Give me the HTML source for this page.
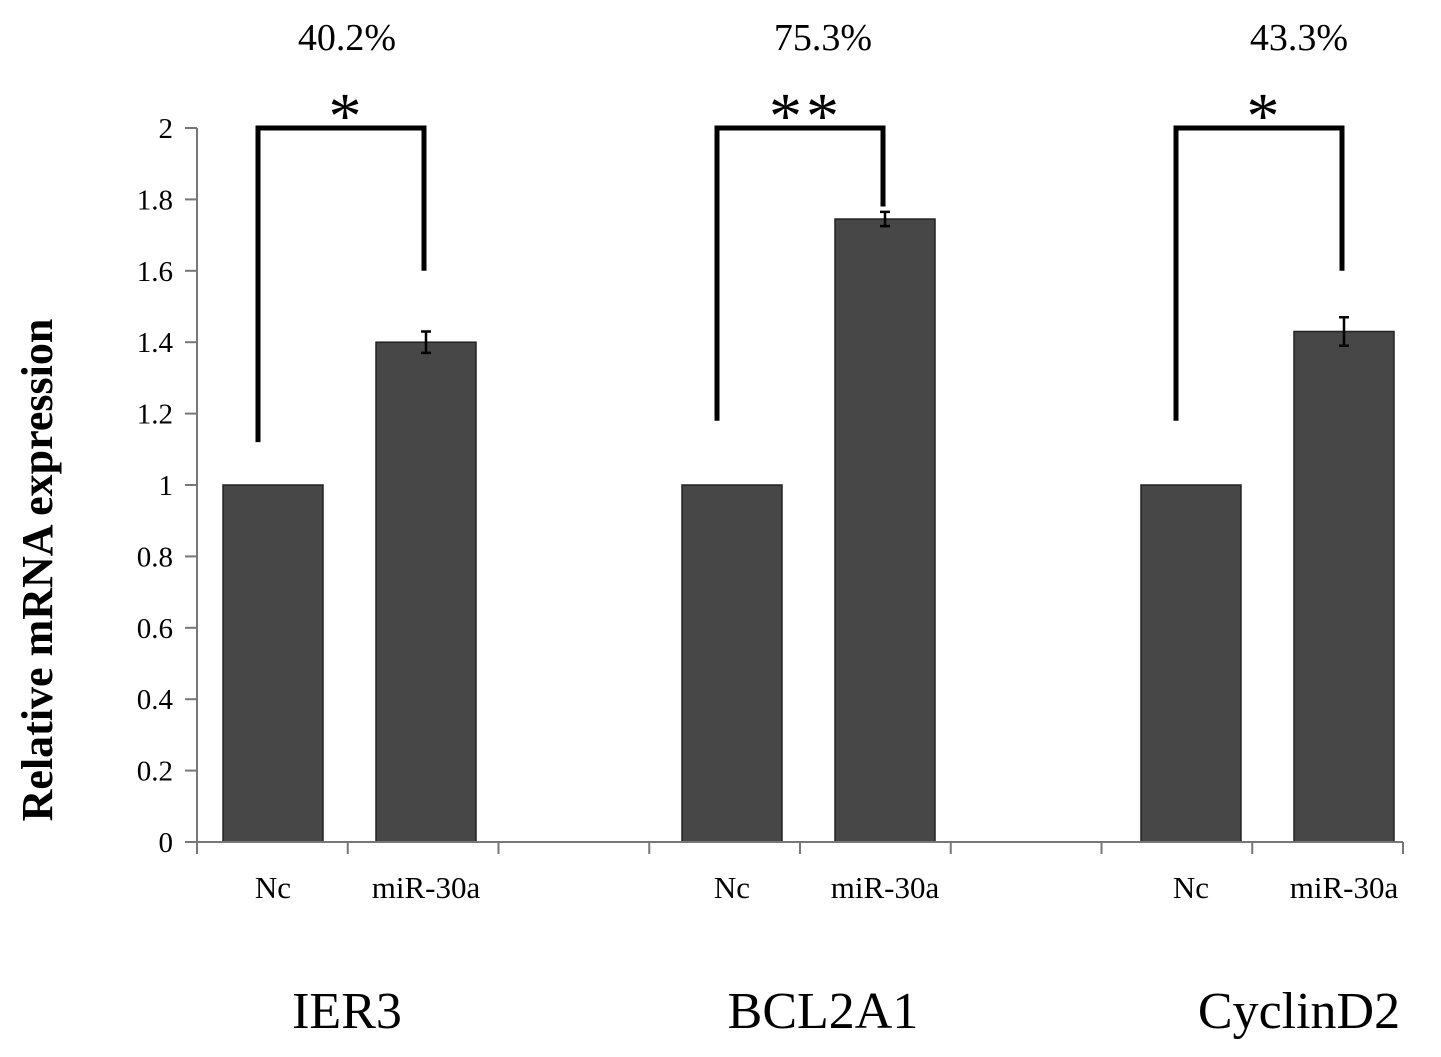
<!DOCTYPE html>
<html><head><meta charset="utf-8"><style>
html,body{margin:0;padding:0;background:#fff;}
svg{display:block;font-family:"Liberation Serif",serif;}
</style></head><body>
<svg id="c" width="1441" height="1057"></svg>
<script>
const categories=["Nc","miR-30a","","Nc","miR-30a","","Nc","miR-30a"];
const values=[1,1.40,null,1,1.745,null,1,1.43];
const errors=[0,0.03,null,0,0.02,null,0,0.04];
const yTicks=[0,0.2,0.4,0.6,0.8,1,1.2,1.4,1.6,1.8,2];
const genes=["IER3","BCL2A1","CyclinD2"];
const percents=["40.2%","75.3%","43.3%"];
const stars=["*","**","*"];
const bracketLeft=[1.12,1.18,1.18];
const bracketRight=[1.6,1.78,1.6];
const bracketTop=2;

const svg=document.getElementById('c');
const NS='http://www.w3.org/2000/svg';
const x0=197,x1=1403,y0=842,y1=128,ymax=2;
const slot=153;
const tickSlot=(x1-x0)/categories.length;
const xc=i=>x0-0.5+slot*(i+0.5);
const y=v=>y0-(v/ymax)*(y0-y1);
function el(t,a,txt){const e=document.createElementNS(NS,t);for(const k in a)e.setAttribute(k,a[k]);if(txt!=null)e.textContent=txt;svg.appendChild(e);return e;}

let e=el('line',{x1:x0,y1:y(0),x2:x0,y2:y(2),stroke:'#777','stroke-width':2});

yTicks.forEach(v=>{
  let t=el('line',{x1:x0-12,y1:y(v),x2:x0,y2:y(v),stroke:'#777','stroke-width':2});
  
  let l=el('text',{x:x0-24,y:y(v)+10,'text-anchor':'end','font-size':29},String(v));
  
});
values.forEach((v,i)=>{
  if(v==null)return;
  const w=100;
  let b=el('rect',{x:xc(i)-w/2,y:y(v),width:w,height:y(0)-y(v),fill:'#474747',stroke:'#222','stroke-width':1.5});
  
  if(errors[i]>0){
    const c=xc(i),a=y(v+errors[i]),d=y(v-errors[i]);
    let g=el('path',{d:`M${c-5},${a}H${c+5}M${c},${a}V${d}M${c-5},${d}H${c+5}`,stroke:'#000','stroke-width':2.5,fill:'none'});
    
  }
});
e=el('line',{x1:x0,y1:y0,x2:x1,y2:y0,stroke:'#777','stroke-width':2});

for(let i=0;i<=categories.length;i++){
  let t=el('line',{x1:x0+tickSlot*i,y1:y0,x2:x0+tickSlot*i,y2:y0+12,stroke:'#777','stroke-width':2});
  
}
categories.forEach((c,i)=>{
  if(!c)return;
  let l=el('text',{x:xc(i),y:898,'text-anchor':'middle','font-size':31},c);
  
});
genes.forEach((g,k)=>{
  const a=xc(k*3),b=xc(k*3+1);
  const lx=a+74+17*k;
  let t=el('text',{x:lx,y:1028,'text-anchor':'middle','font-size':52},g);
  
  let p=el('text',{x:lx,y:50,'text-anchor':'middle','font-size':38},percents[k]);
  
  const la=a-15,lb=b-2;
  let br=el('path',{d:`M${la},${y(bracketLeft[k])}V${y(bracketTop)}H${lb}V${y(bracketRight[k])}`,stroke:'#000','stroke-width':5,fill:'none'});
  
  let s=el('text',{x:(la+lb)/2+6,y:138,'text-anchor':'middle','font-size':66,'letter-spacing':4},stars[k]);
  
});
e=el('text',{x:0,y:0,transform:'translate(52,570) rotate(-90)','text-anchor':'middle','font-size':44,'font-weight':'bold'},'Relative mRNA expression');

</script>
</body></html>
